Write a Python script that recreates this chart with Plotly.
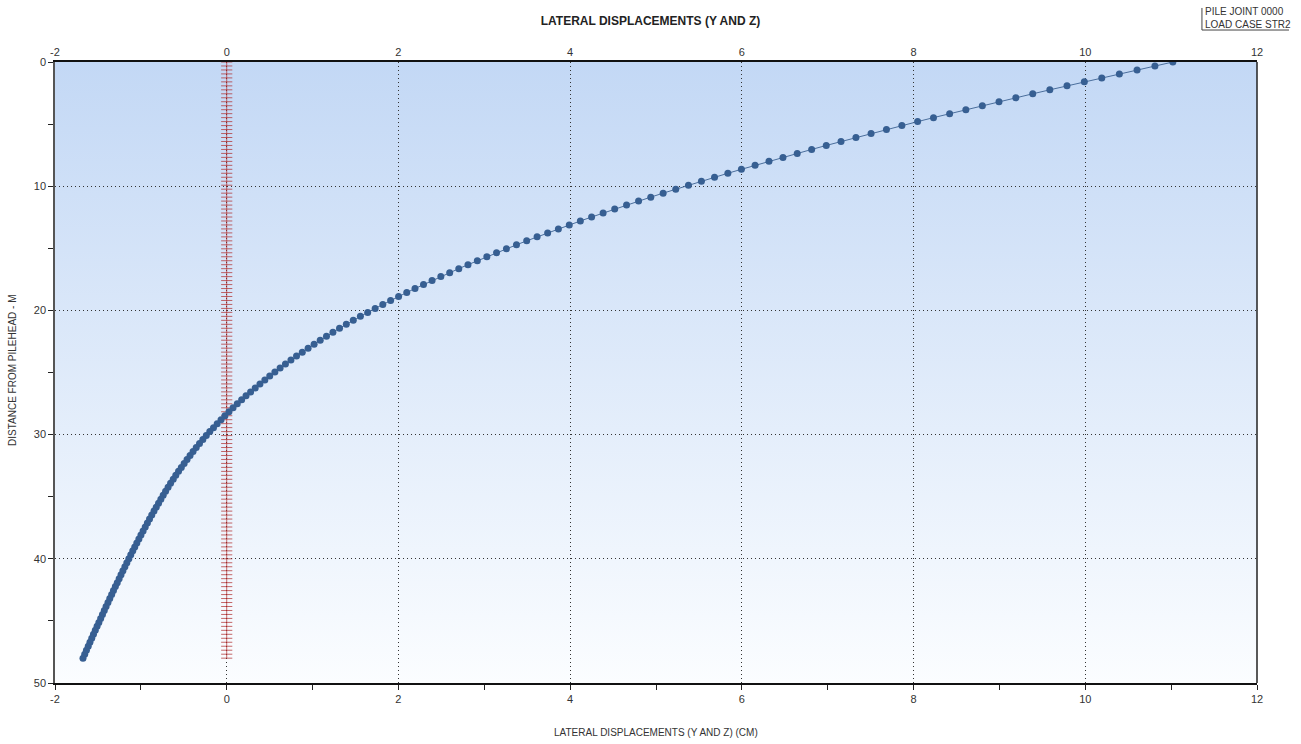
import base64
import plotly.graph_objects as go

# Node depths below the pile head (m)
depth = [
    0.00, 0.32, 0.64, 0.96, 1.28, 1.60, 1.92, 2.24, 2.56, 2.88,
    3.20, 3.52, 3.84, 4.16, 4.48, 4.80, 5.12, 5.44, 5.76, 6.08,
    6.40, 6.72, 7.04, 7.36, 7.68, 8.00, 8.32, 8.64, 8.96, 9.28,
    9.60, 9.92, 10.24, 10.56, 10.88, 11.20, 11.52, 11.84, 12.16, 12.48,
    12.80, 13.12, 13.44, 13.76, 14.08, 14.40, 14.72, 15.04, 15.36, 15.68,
    16.00, 16.32, 16.64, 16.96, 17.28, 17.60, 17.92, 18.24, 18.56, 18.88,
    19.20, 19.52, 19.84, 20.16, 20.48, 20.80, 21.12, 21.44, 21.76, 22.08,
    22.40, 22.72, 23.04, 23.36, 23.68, 24.00, 24.32, 24.64, 24.96, 25.28,
    25.60, 25.92, 26.24, 26.56, 26.88, 27.20, 27.52, 27.84, 28.16, 28.48,
    28.80, 29.12, 29.44, 29.76, 30.08, 30.40, 30.72, 31.04, 31.36, 31.68,
    32.00, 32.32, 32.64, 32.96, 33.28, 33.60, 33.92, 34.24, 34.56, 34.88,
    35.20, 35.52, 35.84, 36.16, 36.48, 36.80, 37.12, 37.44, 37.76, 38.08,
    38.40, 38.72, 39.04, 39.36, 39.68, 40.00, 40.32, 40.64, 40.96, 41.28,
    41.60, 41.92, 42.24, 42.56, 42.88, 43.20, 43.52, 43.84, 44.16, 44.48,
    44.80, 45.12, 45.44, 45.76, 46.08, 46.40, 46.72, 47.04, 47.36, 47.68,
    48.00,
]

# Lateral displacement in Y (cm) at each node
disp_y = [
    11.020, 10.811, 10.603, 10.397, 10.192, 9.989, 9.787, 9.587, 9.388, 9.191,
    8.995, 8.801, 8.609, 8.420, 8.232, 8.047, 7.864, 7.684, 7.505, 7.329,
    7.155, 6.983, 6.813, 6.645, 6.479, 6.316, 6.154, 5.995, 5.837, 5.682,
    5.529, 5.378, 5.230, 5.083, 4.939, 4.797, 4.657, 4.519, 4.384, 4.250,
    4.119, 3.990, 3.863, 3.738, 3.615, 3.494, 3.375, 3.258, 3.143, 3.030,
    2.919, 2.810, 2.703, 2.597, 2.494, 2.392, 2.292, 2.193, 2.097, 2.002,
    1.909, 1.818, 1.729, 1.642, 1.557, 1.474, 1.393, 1.314, 1.237, 1.162,
    1.089, 1.018, 0.948, 0.880, 0.813, 0.748, 0.684, 0.622, 0.561, 0.501,
    0.444, 0.387, 0.332, 0.278, 0.225, 0.174, 0.123, 0.074, 0.026, -0.021,
    -0.066, -0.111, -0.154, -0.197, -0.238, -0.278, -0.317, -0.355, -0.392, -0.427,
    -0.462, -0.496, -0.529, -0.561, -0.593, -0.623, -0.654, -0.683, -0.712, -0.740,
    -0.767, -0.794, -0.821, -0.847, -0.873, -0.899, -0.924, -0.949, -0.974, -0.999,
    -1.023, -1.047, -1.071, -1.094, -1.117, -1.140, -1.163, -1.186, -1.209, -1.231,
    -1.253, -1.275, -1.297, -1.319, -1.340, -1.362, -1.383, -1.405, -1.426, -1.447,
    -1.468, -1.489, -1.510, -1.531, -1.552, -1.572, -1.593, -1.613, -1.634, -1.654,
    -1.674,
]

# Lateral displacement in Z (cm): zero at every node
disp_z = [0.0] * len(depth)

x_ticks = [-2, 0, 2, 4, 6, 8, 10, 12]
x_minor = [-1, 1, 3, 5, 7, 9, 11]
y_ticks = [0, 10, 20, 30, 40, 50]
y_minor = [5, 15, 25, 35, 45]

FONT = "Liberation Sans, Arial, sans-serif"
TXT = "#333333"
GRID_DASH = "1px,3px"
Z_RED = "rgba(176,45,45,0.72)"

# vertical gradient behind the plotting area
svg = (
    '<svg xmlns="http://www.w3.org/2000/svg" width="10" height="100" '
    'viewBox="0 0 10 100" preserveAspectRatio="none">'
    '<defs><linearGradient id="g" x1="0" y1="0" x2="0" y2="1">'
    '<stop offset="0" stop-color="#c3d8f5"/>'
    '<stop offset="1" stop-color="#fbfdff"/>'
    '</linearGradient></defs>'
    '<rect width="10" height="100" fill="url(#g)"/></svg>'
)
bg_uri = "data:image/svg+xml;base64," + base64.b64encode(svg.encode()).decode()

fig = go.Figure()

fig.add_trace(go.Scatter(
    x=disp_z, y=depth, mode="lines+markers",
    line=dict(color="rgba(175,40,40,0.7)", width=1),
    marker=dict(symbol="line-ew", size=8, color=Z_RED,
                line=dict(color=Z_RED, width=1)),
    showlegend=False, hoverinfo="skip",
))

fig.add_trace(go.Scatter(
    x=disp_y, y=depth, mode="lines+markers",
    line=dict(color="#4a6e9c", width=1),
    marker=dict(symbol="circle", size=7, color="#375f92"),
    showlegend=False,
))

# companion trace so the top axis is drawn
fig.add_trace(go.Scatter(
    x=[x_ticks[0], x_ticks[-1]], y=[0, 0], xaxis="x2", mode="markers",
    marker=dict(opacity=0), showlegend=False, hoverinfo="skip",
))

fig.update_layout(
    width=1301, height=744,
    margin=dict(l=55, r=44, t=62, b=61),
    paper_bgcolor="white",
    plot_bgcolor="rgba(0,0,0,0)",
    font=dict(family=FONT, size=11, color=TXT),
    images=[dict(source=bg_uri, xref="paper", yref="paper", x=0, y=1,
                 sizex=1, sizey=1, xanchor="left", yanchor="top",
                 sizing="stretch", layer="below")],
    xaxis=dict(
        range=[-2, 12], tickmode="array", tickvals=x_ticks,
        ticktext=[str(v) for v in x_ticks],
        ticks="outside", ticklen=5, tickcolor="#222",
        minor=dict(tickvals=x_minor, ticks="outside", ticklen=5,
                   tickcolor="#222", showgrid=False),
        showgrid=True, gridcolor="#333", griddash=GRID_DASH, gridwidth=1,
        zeroline=False, showline=True, linecolor="#111", linewidth=1.5,
        mirror=False, automargin=False,
        tickfont=dict(size=11, color=TXT),
    ),
    xaxis2=dict(
        range=[-2, 12], overlaying="x", side="top", matches="x",
        tickmode="array", tickvals=x_ticks,
        ticktext=[str(v) for v in x_ticks],
        ticks="", showgrid=False, zeroline=False, automargin=False,
        showline=True, linecolor="#111", linewidth=1.5,
        tickfont=dict(size=11, color=TXT),
    ),
    yaxis=dict(
        range=[50, 0], tickmode="array", tickvals=y_ticks,
        ticktext=[str(v) for v in y_ticks],
        ticks="outside", ticklen=5, tickcolor="#222",
        minor=dict(tickvals=y_minor, ticks="outside", ticklen=5,
                   tickcolor="#222", showgrid=False),
        showgrid=True, gridcolor="#333", griddash=GRID_DASH, gridwidth=1,
        zeroline=False, showline=True, linecolor="#555", linewidth=1.5,
        mirror=False, automargin=False,
        tickfont=dict(size=11, color=TXT),
    ),
    title=dict(text="<b>LATERAL DISPLACEMENTS (Y AND Z)</b>",
               x=0.5, xanchor="center", y=0.972, yanchor="middle",
               font=dict(size=12, color="#222")),
    annotations=[
        dict(text="PILE JOINT 0000<br>LOAD CASE STR2",
             xref="paper", yref="paper", x=0.9554, y=1.094,
             xanchor="left", yanchor="top", align="left", showarrow=False,
             font=dict(size=10, color=TXT)),
        dict(text="LATERAL DISPLACEMENTS (Y AND Z) (CM)",
             xref="paper", yref="paper", x=0.5, y=-0.079,
             xanchor="center", yanchor="middle", showarrow=False,
             font=dict(size=10, color=TXT)),
        dict(text="DISTANCE FROM PILEHEAD - M",
             xref="paper", yref="paper", x=-0.0358, y=0.504,
             xanchor="center", yanchor="middle", showarrow=False,
             textangle=-90, font=dict(size=10, color=TXT)),
    ],
    shapes=[
        dict(type="line", xref="paper", yref="paper",
             x0=1.0, x1=1.0, y0=0, y1=1, line=dict(color="#222", width=1.5)),
        dict(type="line", xref="paper", yref="paper",
             x0=0.9542, x1=0.9542, y0=1.0515, y1=1.087,
             line=dict(color="#444", width=1)),
        dict(type="line", xref="paper", yref="paper",
             x0=0.9542, x1=1.0266, y0=1.0515, y1=1.0515,
             line=dict(color="#444", width=1)),
    ],
)

fig.write_html("out.html")
